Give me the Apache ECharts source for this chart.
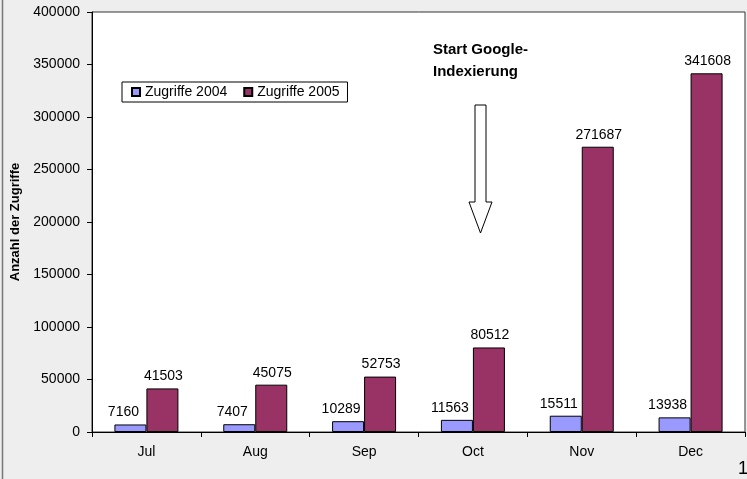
<!DOCTYPE html>
<html>
<head>
<meta charset="utf-8">
<script src="https://cdn.jsdelivr.net/npm/echarts@6/dist/echarts.min.js"></script>
<style>
    html, body { margin: 0; padding: 0; background: #eeeeee; }
    #chart { width: 747px; height: 479px; }
</style>
</head>
<body>
<div id="chart"></div>
<script>
    var months = ['Jul', 'Aug', 'Sep', 'Oct', 'Nov', 'Dec'];
    var hits2004 = [7160, 7407, 10289, 11563, 15511, 13938];
    var hits2005 = [41503, 45075, 52753, 80512, 271687, 341608];
    var yTicks = [0, 50000, 100000, 150000, 200000, 250000, 300000, 350000, 400000];

    var FONT = '"Liberation Sans", Arial, sans-serif';

    var chart = echarts.init(document.getElementById('chart'));

    // labels of the 2004 bars sit a bit left of the bar, like in the original
    function barLabel(dx) {
        return {
            show: true,
            position: 'top',
            distance: 5,
            offset: [dx, 0],
            color: '#000',
            fontFamily: FONT,
            fontSize: 14
        };
    }

    chart.setOption({
        backgroundColor: '#eeeeee',
        animation: false,
        textStyle: { fontFamily: FONT },
        grid: {
            left: 92,
            right: 2,
            top: 12,
            bottom: 47,
            containLabel: false,
            outerBoundsMode: 'none',
            show: true,
            backgroundColor: '#ffffff',
            borderColor: '#333333',
            borderWidth: 1
        },
        legend: {
            left: 122,
            top: 82,
            orient: 'horizontal',
            padding: [3, 8, 3, 9],
            itemGap: 16,
            itemWidth: 8,
            itemHeight: 8,
            icon: 'rect',
            backgroundColor: '#ffffff',
            borderColor: '#000000',
            borderWidth: 1,
            borderRadius: 0,
            textStyle: { color: '#000', fontSize: 14, fontFamily: FONT },
            data: ['Zugriffe 2004', 'Zugriffe 2005']
        },
        xAxis: {
            type: 'category',
            data: months,
            axisLine: { lineStyle: { color: '#000', width: 1 } },
            axisTick: { show: true, alignWithLabel: false, length: 5, lineStyle: { color: '#000' } },
            axisLabel: { color: '#000', fontSize: 14, fontFamily: FONT, margin: 13 },
            splitLine: { show: false }
        },
        yAxis: {
            type: 'value',
            min: yTicks[0],
            max: yTicks[yTicks.length - 1],
            interval: yTicks[1] - yTicks[0],
            name: 'Anzahl der Zugriffe',
            nameLocation: 'middle',
            nameGap: 65,
            nameRotate: 90,
            nameTextStyle: { color: '#000', fontSize: 13, fontWeight: 'bold', fontFamily: FONT },
            axisLine: { show: true, lineStyle: { color: '#000', width: 1 } },
            axisTick: { show: true, length: 5, lineStyle: { color: '#000' } },
            axisLabel: {
                color: '#000',
                fontSize: 14,
                fontFamily: FONT,
                margin: 12,
                formatter: function (v) { return String(v); }
            },
            splitLine: { show: false }
        },
        series: [
            {
                name: 'Zugriffe 2004',
                type: 'bar',
                data: hits2004,
                barWidth: 32,
                barGap: '0%',
                itemStyle: { color: '#9999ff', borderColor: '#000', borderWidth: 1 },
                label: barLabel(-7)
            },
            {
                name: 'Zugriffe 2005',
                type: 'bar',
                data: hits2005,
                barWidth: 32,
                barGap: '0%',
                itemStyle: { color: '#993366', borderColor: '#000', borderWidth: 1 },
                label: barLabel(1)
            }
        ],
        graphic: [
            {
                type: 'line',
                shape: { x1: 2.5, y1: 0, x2: 2.5, y2: 479 },
                style: { stroke: '#777777', lineWidth: 1.5 }
            },
            {
                type: 'text',
                left: 433,
                top: 39,
                style: {
                    text: 'Start Google-\nIndexierung',
                    fill: '#000',
                    font: 'bold 15px "Liberation Sans", Arial, sans-serif',
                    lineHeight: 22
                }
            },
            {
                type: 'polygon',
                shape: {
                    points: [[475, 105], [486, 105], [486, 202], [492, 202],
                             [480.5, 233], [469, 202], [475, 202]]
                },
                style: { fill: '#ffffff', stroke: '#000', lineWidth: 1 }
            },
            {
                type: 'text',
                left: 738,
                top: 460,
                style: {
                    text: '1',
                    fill: '#000',
                    font: '18px "Liberation Sans", Arial, sans-serif'
                }
            }
        ]
    });
</script>
</body>
</html>
